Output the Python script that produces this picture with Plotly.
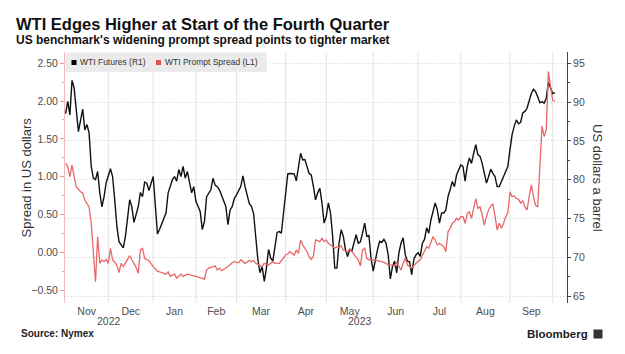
import math
import pandas as pd
import plotly.graph_objects as go

# ---------------- data ----------------
HOLIDAYS = ["2022-11-24", "2022-12-26", "2023-01-02", "2023-01-16", "2023-02-20",
            "2023-04-07", "2023-05-29", "2023-06-19", "2023-07-04", "2023-09-04"]

# trading-session number counted from 2022-11-02
fut_day = [0, 1, 2, 3, 4, 6, 8, 9, 10, 11, 12, 13, 14, 15, 16, 17, 18, 19,
           21, 22, 23, 24, 25, 27, 28, 30, 31, 32, 34, 35, 36, 37, 38, 39,
           41, 42, 43, 44, 46, 47, 48, 50, 51, 52, 53, 54, 55, 56, 57, 58, 59, 60,
           61, 63, 64, 65, 66, 68, 69, 70, 71, 72, 74, 75, 76, 77, 78, 79,
           80, 82, 83, 84, 86, 87, 88, 89, 90, 91, 92, 93, 94, 95, 96, 97, 99, 100, 101, 102,
           103, 104, 105, 106, 107, 108, 109, 110, 111, 112, 114, 115, 116, 117, 118, 119, 120, 121,
           122, 123, 124, 125, 126, 127, 128, 129, 130, 131, 132, 133, 134, 136, 137, 138, 139, 140, 141, 142, 143,
           144, 146, 147, 148, 149, 150, 151, 152, 153, 154, 155, 156, 157, 158, 159, 160, 161, 162, 163, 164,
           165, 166, 167, 168, 169, 170, 171, 172, 173, 174, 175, 176, 177, 178, 179, 180, 181, 182, 183,
           185, 186, 187, 188, 189, 190, 191, 192, 193, 194, 195, 196, 197, 198, 199, 200, 201, 202, 203, 204, 205, 207,
           208, 209, 210, 211, 212, 213, 214, 215, 216, 217, 218, 219, 220, 221, 222, 223, 224, 225, 226, 227, 228, 229]

fut_price = [88.5, 90.1, 88.35, 92.8, 91.8, 86.2, 89.1, 86.4, 87.1, 86.0, 81.7, 80.2, 80.0, 81.05, 78.3, 76.5, 77.8, 79.6,
             81.4, 80.4, 77.4, 74.0, 72.0, 71.2, 72.7, 77.4, 76.5, 74.5, 76.5, 78.35, 77.8, 79.7, 79.55, 78.6,
             80.4, 76.8, 73.0, 73.6, 75.05, 75.7, 78.3, 80.0, 80.4, 79.8, 81.3, 80.4, 81.7, 80.2, 81.05, 79.8, 78.3, 79.1,
             77.2, 75.9, 73.55, 74.6, 77.8, 78.7, 80.2, 79.3, 79.1, 78.7, 77.2, 76.55, 74.2, 76.1, 76.55, 77.6,
             78.05, 79.1, 80.5, 79.1, 76.9, 76.55, 75.6, 72.3, 69.7, 68.0, 68.8, 66.9, 68.6, 71.0, 69.9, 69.5, 73.2, 73.3, 73.1, 75.7,
             78.3, 80.75, 80.8, 80.75, 80.75, 79.85, 81.9, 83.4, 82.55, 82.6, 80.8, 80.6, 79.1, 77.4, 78.3, 78.9, 77.0, 74.4,
             75.25, 77.0, 75.7, 72.7, 68.6, 68.6, 71.8, 73.55, 72.7, 71.0, 70.1, 71.0, 70.8, 72.9, 71.8, 72.0, 73.1, 74.4, 72.7, 72.8, 69.8,
             68.2, 71.0, 72.05, 71.9, 72.3, 71.8, 70.3, 67.2, 68.8, 69.5, 68.0, 70.55, 71.8, 72.5, 70.3, 69.5, 69.4, 67.75, 69.7, 70.3,
             70.6, 70.1, 71.8, 72.3, 73.8, 73.1, 74.8, 75.9, 77.0, 76.1, 74.4, 75.7, 75.7, 76.1, 77.8, 78.7, 79.76, 79.1, 80.6,
             81.9, 81.7, 79.8, 81.7, 82.8, 82.1, 83.4, 84.5, 83.2, 83.0, 82.1, 80.6, 79.55, 80.4, 81.36, 80.8, 80.4, 79.1, 79.1, 79.76, 80.4, 81.7,
             83.84, 85.8, 86.9, 87.7, 87.2, 87.4, 88.6, 88.8, 89.2, 90.3, 91.1, 91.65, 91.35, 90.7, 89.9, 90.05, 89.85, 90.5, 92.6, 91.8, 91.1, 91.2]

spr_day = [0, 1, 2, 3, 4, 5, 7, 8, 9, 11, 12, 13, 14, 15, 16, 17, 18, 19,
           20, 21, 22, 24, 25, 26, 27, 29, 30, 31, 33, 34, 35, 36, 37, 38, 39,
           41, 43, 44, 46, 47, 48, 49, 51, 52, 54, 55, 57, 59,
           61, 64, 65, 66, 67, 68, 70, 71, 72, 73, 75, 76, 78, 79,
           81, 82, 84, 86, 87, 88, 89, 91, 92, 93, 95, 97, 98, 100, 101,
           103, 104, 105, 107, 108, 109, 110, 111, 113, 114, 115, 116, 117, 119, 120, 121,
           122, 123, 125, 126, 127, 128, 129, 130, 132, 133, 134, 136, 137, 138, 139, 140, 141, 142, 143,
           145, 146, 148, 150, 151, 153, 154, 155, 156, 157, 158, 159, 160, 161, 162, 163, 164,
           166, 167, 168, 169, 170, 171, 172, 173, 174, 175, 177, 178, 179, 180, 181, 182, 183, 184,
           185, 186, 187, 188, 189, 190, 191, 192, 193, 194, 195, 196, 197, 198, 199, 200, 201, 202, 203, 204, 205, 206, 207,
           208, 209, 210, 211, 212, 213, 214, 215, 216, 217, 218, 219, 220, 221, 222, 223, 224, 225, 226, 227, 228, 229]

spr_value = [1.177, 1.13, 1.0, 1.154, 1.0, 0.867, 0.80, 0.78, 0.69, 0.60, 0.383, 0.03, -0.39, 0.205, -0.147, -0.103, -0.125, -0.094,
             -0.147, 0.05, -0.1, -0.17, -0.27, -0.147, -0.19, -0.094, -0.046, -0.10, -0.2, -0.28, 0.03, 0.05, -0.08, -0.10, -0.11,
             -0.19, -0.25, -0.26, -0.28, -0.29, -0.26, -0.32, -0.29, -0.345, -0.29, -0.32, -0.29, -0.30,
             -0.32, -0.345, -0.36, -0.235, -0.21, -0.20, -0.18, -0.235, -0.21, -0.245, -0.21, -0.19, -0.14, -0.125,
             -0.14, -0.10, -0.147, -0.11, -0.125, -0.11, -0.147, -0.18, -0.19, -0.147, -0.17, -0.125, -0.147, -0.147, -0.11,
             -0.037, -0.024, 0.007, -0.037, 0.03, -0.014, 0.162, 0.096, 0.007, -0.06, -0.094, -0.05, 0.162, 0.14, 0.184, 0.14,
             0.162, 0.118, 0.074, 0.052, 0.074, 0.065, 0.083, 0.03, 0.007, 0.039, 0.007, -0.06, -0.10, -0.18, 0.03, 0.052, -0.08, -0.10, -0.10,
             -0.10, -0.116, -0.125, -0.147, -0.17, -0.17, -0.18, -0.14, -0.19, -0.235, -0.147, -0.08, -0.17, -0.19, -0.21, -0.18, -0.147,
             -0.10, -0.037, 0.03, 0.074, 0.052, 0.14, 0.205, 0.162, 0.096, 0.118, 0.074, 0.007, 0.272, 0.316, 0.383, 0.404, 0.449, 0.426,
             0.47, 0.47, 0.383, 0.515, 0.536, 0.449, 0.58, 0.71, 0.58, 0.60, 0.49, 0.36, 0.47, 0.56, 0.61, 0.64, 0.48, 0.294, 0.383, 0.316, 0.383, 0.47, 0.52,
             0.80, 0.735, 0.744, 0.71, 0.70, 0.65, 0.68, 0.60, 0.56, 0.735, 0.89, 0.735, 0.62, 0.60, 1.1, 1.67, 1.53, 1.62, 2.39, 2.2, 2.01, 2.0]

month_labels = ["Nov", "Dec", "Jan", "Feb", "Mar", "Apr", "May", "Jun", "Jul", "Aug", "Sep"]
year_labels = ["2022", "2023"]
left_ticks = [-0.5, 0.0, 0.5, 1.0, 1.5, 2.0, 2.5]
right_ticks = [65, 70, 75, 80, 85, 90, 95]

FUT_NAME = "WTI Futures (R1)"
SPR_NAME = "WTI Prompt Spread (L1)"
TITLE = "WTI Edges Higher at Start of the Fourth Quarter"
SUBTITLE = "US benchmark's widening prompt spread points to tighter market"
LEFT_TITLE = "Spread in US dollars"
RIGHT_TITLE = "US dollars a barrel"
SOURCE = "Source: Nymex"

assert len(fut_day) == len(fut_price)
assert len(spr_day) == len(spr_value)

# ---------------- trading calendar ----------------
sessions = pd.bdate_range("2022-11-02", "2023-10-31", freq="C", holidays=HOLIDAYS)


def at_session(v):
    """Timestamp at (fractional) session position v on the trading-day axis."""
    if v < 0:
        return sessions[0] + pd.Timedelta(days=v)
    i = int(math.floor(v))
    return sessions[i] + pd.Timedelta(days=v - i)


fut_x = sessions[fut_day]
spr_x = sessions[spr_day]

ser = pd.Series(range(len(sessions)), index=sessions)
month_first = ser.groupby(sessions.to_period("M")).min()  # first session of each month
starts = [int(v) for v in month_first.values]              # Nov, Dec, ..., Oct
AX_START, AX_END = -0.28, 234.7
bounds = [AX_START] + starts[1:12]
label_pos = [at_session((bounds[k] + bounds[k + 1]) / 2) for k in range(11)]
grid_pos = [sessions[s] for s in starts[1:12]]
year_pos = [at_session((AX_START + starts[2]) / 2), at_session((starts[2] + AX_END) / 2)]

FONT = "Liberation Sans, Arial, sans-serif"
RED = "#e8676a"

fig = go.Figure()
fig.add_trace(go.Scatter(x=fut_x, y=fut_price, mode="lines", name=FUT_NAME, yaxis="y",
                         line=dict(color="#111111", width=1.4), showlegend=False, hoverinfo="skip"))
fig.add_trace(go.Scatter(x=spr_x, y=spr_value, mode="lines", name=SPR_NAME, yaxis="y2",
                         line=dict(color=RED, width=1.3), showlegend=False, hoverinfo="skip"))

tickfont = dict(family=FONT, size=10.5, color="#4d4d4d")

shapes = []
for g in grid_pos:
    shapes.append(dict(type="line", xref="x", yref="paper", x0=g, x1=g, y0=0, y1=1,
                       line=dict(color="#e4e4e4", width=1), layer="below"))


def px_x(p):
    return (p - 65) / 502.0


def px_y(p):
    return (303 - p) / 251.0


# legend (manual, to match the compact Bloomberg legend)
shapes.append(dict(type="rect", xref="paper", yref="paper", x0=px_x(65.5), x1=px_x(267), y0=px_y(72),
                   y1=px_y(52.5), fillcolor="#ebebeb", line=dict(width=0), layer="above"))
shapes.append(dict(type="rect", xref="paper", yref="paper", x0=px_x(71.5), x1=px_x(76.5), y0=px_y(65),
                   y1=px_y(60), fillcolor="#000000", line=dict(width=0), layer="above"))
shapes.append(dict(type="rect", xref="paper", yref="paper", x0=px_x(156), x1=px_x(161), y0=px_y(65),
                   y1=px_y(60), fillcolor="#e25252", line=dict(width=0), layer="above"))
# Bloomberg mark
shapes.append(dict(type="rect", xref="paper", yref="paper", x0=px_x(593.5), x1=px_x(602.5), y0=px_y(338.5),
                   y1=px_y(329.5), fillcolor="#333333", line=dict(width=0), layer="above"))

annotations = [
    dict(text=TITLE, xref="paper", yref="paper", x=px_x(14), y=px_y(24.4), xanchor="left", yanchor="middle",
         showarrow=False, font=dict(family=FONT, size=16.5, color="#111111", weight="bold")),
    dict(text=SUBTITLE, xref="paper", yref="paper", x=px_x(14), y=px_y(39.5), xanchor="left", yanchor="middle",
         showarrow=False, font=dict(family=FONT, size=12, color="#111111", weight="bold")),
    dict(text=FUT_NAME, xref="paper", yref="paper", x=px_x(78), y=px_y(62.5), xanchor="left", yanchor="middle",
         showarrow=False, font=dict(family=FONT, size=8.5, color="#333333")),
    dict(text=SPR_NAME, xref="paper", yref="paper", x=px_x(162.5), y=px_y(62.5), xanchor="left", yanchor="middle",
         showarrow=False, font=dict(family=FONT, size=8.5, color="#333333")),
    dict(text=LEFT_TITLE, xref="paper", yref="paper", x=px_x(26), y=0.5, xanchor="center", yanchor="middle",
         textangle=-90, showarrow=False, font=dict(family=FONT, size=13, color="#333333")),
    dict(text=RIGHT_TITLE, xref="paper", yref="paper", x=px_x(597.5), y=0.5, xanchor="center", yanchor="middle",
         textangle=90, showarrow=False, font=dict(family=FONT, size=13, color="#333333")),
    dict(text=SOURCE, xref="paper", yref="paper", x=px_x(19), y=px_y(333.5), xanchor="left", yanchor="middle",
         showarrow=False, font=dict(family=FONT, size=10, color="#222222", weight="bold")),
    dict(text="Bloomberg", xref="paper", yref="paper", x=px_x(590), y=px_y(333.8), xanchor="right",
         yanchor="middle", showarrow=False, font=dict(family=FONT, size=11.5, color="#222222", weight="bold")),
]
for yl, yp in zip(year_labels, year_pos):
    annotations.append(dict(text=yl, xref="x", yref="paper", x=yp, y=px_y(321), xanchor="center",
                            yanchor="middle", showarrow=False, font=tickfont))

fig.update_layout(
    width=625, height=354, autosize=False,
    margin=dict(l=65, r=58, t=52, b=51, pad=0),
    paper_bgcolor="white", plot_bgcolor="white",
    showlegend=False,
    xaxis=dict(type="date", range=[at_session(AX_START), at_session(AX_END)],
               rangebreaks=[dict(bounds=["sat", "mon"]), dict(values=HOLIDAYS)],
               tickmode="array", tickvals=label_pos, ticktext=month_labels,
               showgrid=False, zeroline=False, showline=False, ticks="",
               tickfont=tickfont),
    yaxis=dict(side="right", range=[64.10, 96.457], tickmode="array", tickvals=right_ticks,
               showgrid=True, gridcolor="#d0d0d0", griddash="1px,2px", gridwidth=1, zeroline=False,
               showline=True, linecolor="#444444", linewidth=1,
               ticks="outside", ticklen=3, tickcolor="#444444",
               minor=dict(ticks="outside", ticklen=2, dtick=2.5, tick0=65, tickcolor="#444444", showgrid=False),
               tickfont=tickfont),
    yaxis2=dict(side="left", overlaying="y", range=[-0.672, 2.6495], tickmode="array",
                tickvals=left_ticks, tickformat=".2f", showgrid=False, zeroline=False,
                showline=True, linecolor="#f0bcbc", linewidth=1,
                ticks="outside", ticklen=4, tickcolor="#e99a9a",
                minor=dict(ticks="outside", ticklen=2, dtick=0.25, tick0=0, tickcolor="#e99a9a", showgrid=False),
                tickfont=tickfont),
    shapes=shapes,
    annotations=annotations,
)

fig.write_html("out.html")
